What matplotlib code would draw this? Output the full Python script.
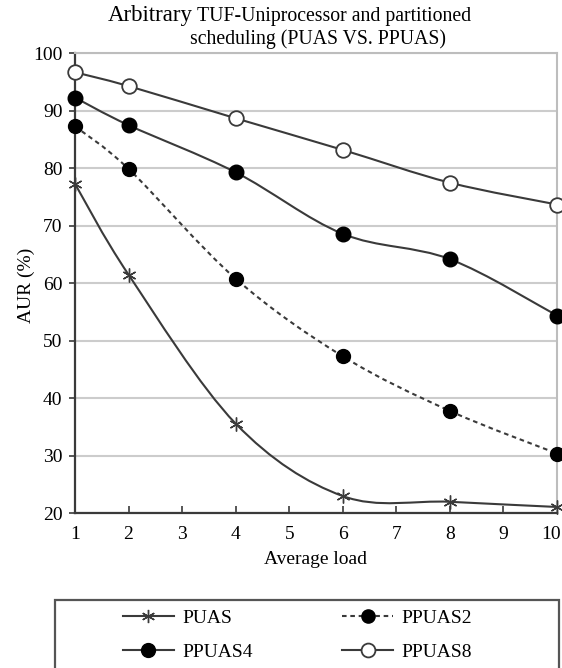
import numpy as np
import matplotlib
matplotlib.use('Agg')
import matplotlib.pyplot as plt
import matplotlib.transforms as mtransforms
from matplotlib.path import Path
from matplotlib.patches import PathPatch, Rectangle
from matplotlib.lines import Line2D

plt.rcParams['font.family'] = ['Liberation Serif', 'DejaVu Serif']

# ── data ─────────────────────────────────────────
load = [1, 2, 4, 6, 8, 10]
puas = [77.3, 61.5, 35.6, 23.0, 22.0, 21.1]
ppuas2 = [87.3, 79.9, 60.8, 47.3, 37.8, 30.4]
ppuas4 = [92.3, 87.5, 79.3, 68.6, 64.2, 54.4]
ppuas8 = [96.7, 94.3, 88.7, 83.2, 77.5, 73.7]

x_ticks = [1, 2, 3, 4, 5, 6, 7, 8, 9, 10]
y_ticks = [20, 30, 40, 50, 60, 70, 80, 90, 100]

line_col = '#3a3a3a'


def smooth_path(xs, ys):
    # Excel-style smoothed line: cubic bezier through the points (catmull-rom controls)
    p = np.column_stack([xs, ys]).astype(float)
    n = len(p)
    verts = [p[0]]
    codes = [Path.MOVETO]
    for i in range(n - 1):
        p_prev = p[i - 1] if i > 0 else p[i]
        p_next2 = p[i + 2] if i + 2 < n else p[i + 1]
        c1 = p[i] + (p[i + 1] - p_prev) / 6
        c2 = p[i + 1] - (p_next2 - p[i]) / 6
        verts += [c1, c2, p[i + 1]]
        codes += [Path.CURVE4] * 3
    return Path(verts, codes)


fig = plt.figure(figsize=(5.62, 6.68), dpi=100)
ax = fig.add_axes([75 / 562, 1 - 513.3 / 668, (557 - 75) / 562, (513.3 - 53.3) / 668])

series = [
    ('PUAS', puas, dict(marker=(6, 2, 0), ms=10, mfc=line_col, mec=line_col, mew=1.0), '-'),
    ('PPUAS2', ppuas2, dict(marker='o', ms=10, mfc='black', mec='black'), '--'),
    ('PPUAS4', ppuas4, dict(marker='o', ms=10.5, mfc='black', mec='black'), '-'),
    ('PPUAS8', ppuas8, dict(marker='o', ms=10.5, mfc='white', mec=line_col, mew=1.3), '-'),
]

handles = {}
for name, vals, mk, ls in series:
    patch = PathPatch(smooth_path(load, vals), fill=False, edgecolor=line_col,
                      lw=1.5, linestyle=ls, zorder=3)
    if ls == '--':
        patch.set_linestyle((0, (2.2, 1.8)))
    ax.add_patch(patch)
    ax.plot(load, vals, linestyle='none', zorder=4, clip_on=False, **mk)
    h = Line2D([], [], color=line_col, lw=1.5, **mk)
    if ls == '--':
        h.set_linestyle((0, (2.2, 1.8)))
    handles[name] = h

ax.set_xlim(1, 10)
ax.set_ylim(20, 100)
ax.set_xticks(x_ticks)
ax.set_yticks(y_ticks)
ax.tick_params(axis='x', direction='in', length=5, width=1.2, pad=9, labelsize=14, color=line_col)
ax.tick_params(axis='y', direction='out', length=4, width=1.2, pad=5, labelsize=14, color=line_col)
ax.yaxis.grid(True, color='#cccccc', lw=1.5)
ax.set_axisbelow(True)
for s in ['left', 'bottom']:
    ax.spines[s].set_color(line_col)
    ax.spines[s].set_linewidth(1.6)
for s in ['top', 'right']:
    ax.spines[s].set_color('#bdbdbd')
    ax.spines[s].set_linewidth(1.5)

# last tick label sits on the figure edge, nudge it in a little
fig.canvas.draw()
last = ax.get_xticklabels()[-1]
last.set_transform(last.get_transform() +
                   mtransforms.ScaledTranslation(-6 / 100, 0, fig.dpi_scale_trans))

ax.set_xlabel('Average load', fontsize=14, labelpad=6)
ax.set_ylabel('AUR (%)', fontsize=14)
ax.yaxis.set_label_coords(-0.083, 0.496)

# ── title ──────────────────────────────────────────
fig.text(108 / 562, 1 - 21 / 668, 'Arbitrary', fontsize=16.5, ha='left', va='baseline')
fig.text(197 / 562, 1 - 21 / 668, 'TUF-Uniprocessor and partitioned', fontsize=14.2,
         ha='left', va='baseline')
fig.text(190 / 562, 1 - 44 / 668, 'scheduling (PUAS VS. PPUAS)', fontsize=14.2,
         ha='left', va='baseline')

# ── legend ─────────────────────────────────────────
fig.add_artist(Rectangle((55 / 562, -0.05), (559 - 55) / 562, 0.05 + 1 - 600 / 668,
                         transform=fig.transFigure, fill=False, edgecolor='#555555', lw=1.6))
order = ['PUAS', 'PPUAS4', 'PPUAS2', 'PPUAS8']
fig.legend([handles[k] for k in order], order, ncol=2, frameon=False,
           loc='center left', bbox_to_anchor=(123 / 562, 1 - 635 / 668),
           borderpad=0, borderaxespad=0, fontsize=14, handlelength=2.6,
           handletextpad=0.45, labelspacing=0.85, columnspacing=4.6, markerscale=0.95)

fig.savefig('out.png', dpi=100)
